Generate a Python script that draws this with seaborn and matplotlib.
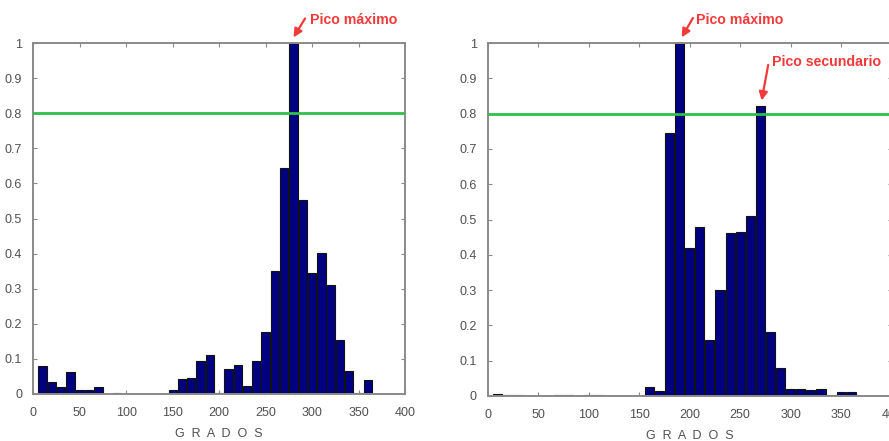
import matplotlib
matplotlib.use("Agg")
import matplotlib.pyplot as plt
import seaborn as sns
import numpy as np

# ---- data ----
grados = [10, 20, 30, 40, 50, 60, 70, 80, 90, 100, 110, 120, 130, 140, 150, 160, 170, 180,
          190, 200, 210, 220, 230, 240, 250, 260, 270, 280, 290, 300, 310, 320, 330, 340, 350, 360]
hist_izq = [0.080, 0.035, 0.020, 0.063, 0.012, 0.012, 0.020, 0.000, 0.004, 0.001, 0.001, 0.000,
            0.000, 0.000, 0.010, 0.043, 0.046, 0.094, 0.112, 0.004, 0.070, 0.082, 0.022, 0.095,
            0.178, 0.350, 0.643, 1.000, 0.553, 0.344, 0.402, 0.310, 0.155, 0.066, 0.003, 0.040]
hist_der = [0.006, 0.002, 0.002, 0.000, 0.000, 0.000, 0.004, 0.002, 0.000, 0.002, 0.003, 0.001,
            0.000, 0.000, 0.000, 0.026, 0.014, 0.745, 1.000, 0.418, 0.478, 0.160, 0.300, 0.462,
            0.464, 0.510, 0.822, 0.180, 0.078, 0.020, 0.020, 0.018, 0.021, 0.004, 0.012, 0.012]
umbral = 0.8
x_ticks = [0, 50, 100, 150, 200, 250, 300, 350, 400]
y_ticks = [0, 0.1, 0.2, 0.3, 0.4, 0.5, 0.6, 0.7, 0.8, 0.9, 1]
y_labels = ["0", "0.1", "0.2", "0.3", "0.4", "0.5", "0.6", "0.7", "0.8", "0.9", "1"]
xlabel = "G  R  A  D  O  S"
txt_max = "Pico máximo"
txt_sec = "Pico secundario"

sns.set_style("white")
plt.rcParams["font.family"] = ["Liberation Sans", "DejaVu Sans"]

RED = "#f23a3a"
GREEN = "#2fbf4a"
NAVY = "#000080"
GRAY = "#505050"

fig = plt.figure(figsize=(8.89, 4.41), dpi=100)
ax1 = fig.add_axes([33.3 / 889, 47 / 441, (405 - 33.3) / 889, 351 / 441])
ax2 = fig.add_axes([487.8 / 889, 45 / 441, (891.7 - 487.8) / 889, 353 / 441])


def style(ax, vals):
    sns.barplot(x=grados, y=vals, native_scale=True, color=NAVY, saturation=1,
                edgecolor="#111111", linewidth=0.8, width=0.9, ax=ax)
    ax.axhline(umbral, color=GREEN, lw=2, zorder=3)
    ax.set_xlim(0, 400)
    ax.set_ylim(0, 1)
    ax.set_xticks(x_ticks)
    ax.set_xticklabels([str(t) for t in x_ticks])
    ax.set_yticks(y_ticks)
    ax.set_yticklabels(y_labels)
    ax.tick_params(direction="in", length=3, width=0.8, color="#888888",
                   labelcolor=GRAY, labelsize=9, top=True, right=True,
                   bottom=True, left=True)
    ax.tick_params(axis="x", pad=9)
    ax.tick_params(axis="y", pad=8)
    for s in ax.spines.values():
        s.set_visible(True)
        s.set_color("#8a8a8a")
        s.set_linewidth(1.4)
    ax.set_xlabel(xlabel, color=GRAY, fontsize=9, labelpad=7)
    ax.set_ylabel("")


style(ax1, hist_izq)
style(ax2, hist_der)

# annotations
def flecha(ax, tail, tip):
    ax.annotate("", xy=tip, xytext=tail, xycoords="data", textcoords="data",
                annotation_clip=False,
                arrowprops=dict(arrowstyle="-|>,head_length=0.5,head_width=0.25",
                                color=RED, lw=1.6, shrinkA=0, shrinkB=0))

FS = 10.2
flecha(ax1, (292.5, 1.07), (280, 1.016))
ax1.text(297.9, 1.066, txt_max, color=RED, fontsize=FS, fontweight="bold",
         ha="left", va="center", clip_on=False)

flecha(ax2, (203.2, 1.071), (192, 1.016))
ax2.text(206.5, 1.065, txt_max, color=RED, fontsize=FS, fontweight="bold",
         ha="left", va="center", clip_on=False)

flecha(ax2, (277.7, 0.938), (271.2, 0.837))
ax2.text(281, 0.947, txt_sec, color=RED, fontsize=FS, fontweight="bold",
         ha="left", va="center", clip_on=False)

fig.savefig("out.png", dpi=100, facecolor="white")
